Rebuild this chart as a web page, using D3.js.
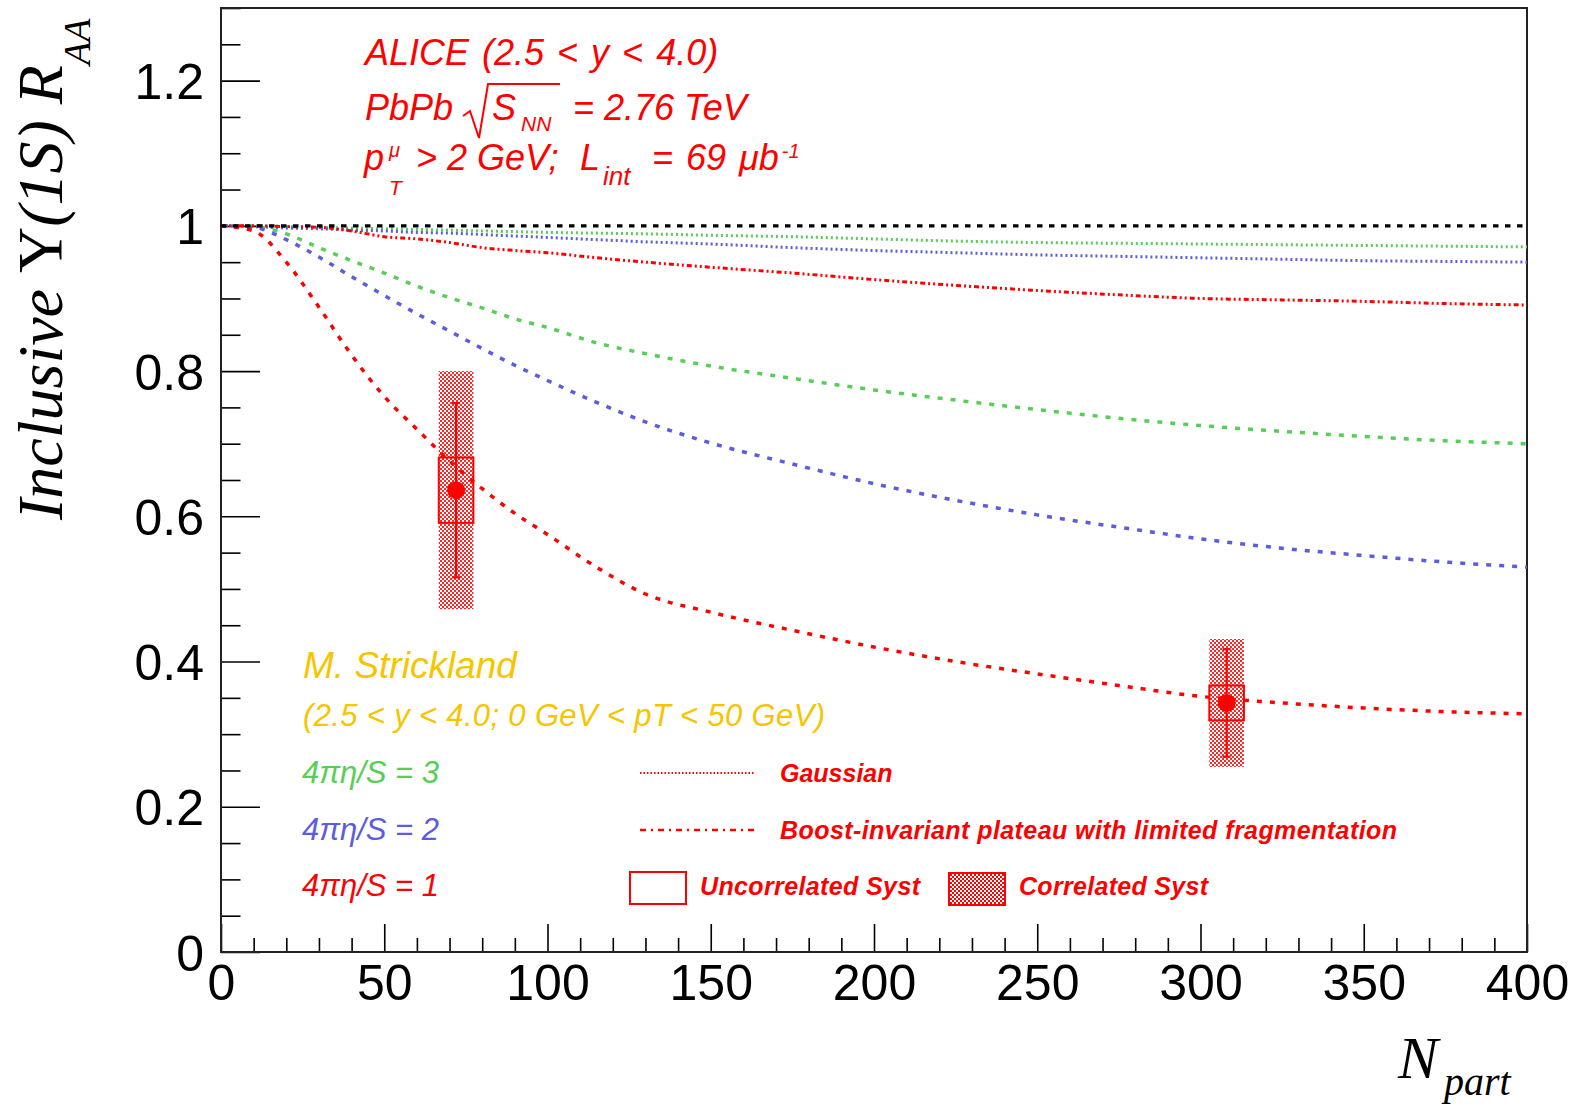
<!DOCTYPE html>
<html>
<head>
<meta charset="utf-8">
<script src="https://cdn.jsdelivr.net/npm/d3@7/dist/d3.min.js"></script>
<style>
  body { margin: 0; background: #fff; }
  svg { display: block; }
  .sans { font-family: "Liberation Sans", Arial, Helvetica, sans-serif; }
  .serif { font-family: "Liberation Serif", "Times New Roman", serif; }
</style>
</head>
<body>
<svg id="chart" width="1571" height="1104"></svg>
<script>
// ---- data ------------------------------------------------------------
// N_part grid on which the hydro model curves are tabulated
const nGrid = [0, 10, 20, 30, 40, 50, 60, 70, 80, 90, 100, 115, 130, 150, 175, 200, 225, 250, 275, 300, 325, 350, 375, 400];

// Strickland model, Gaussian rapidity profile
const gaussEta3 = [1.000, 0.999, 0.989, 0.970, 0.952, 0.935, 0.917, 0.901, 0.887, 0.872, 0.860, 0.839, 0.824, 0.807, 0.790, 0.774, 0.760, 0.747, 0.735, 0.725, 0.717, 0.710, 0.704, 0.700];
const gaussEta2 = [1.000, 0.998, 0.981, 0.957, 0.930, 0.904, 0.879, 0.855, 0.831, 0.808, 0.787, 0.757, 0.730, 0.701, 0.672, 0.645, 0.622, 0.602, 0.585, 0.569, 0.556, 0.546, 0.537, 0.530];
const gaussEta1 = [1.000, 0.993, 0.950, 0.888, 0.822, 0.765, 0.720, 0.676, 0.638, 0.604, 0.575, 0.530, 0.493, 0.468, 0.443, 0.420, 0.400, 0.383, 0.367, 0.352, 0.343, 0.336, 0.331, 0.328];

// Strickland model, boost-invariant plateau with limited fragmentation
const boostEta3 = [1.000, 1.000, 0.999, 0.998, 0.997, 0.996, 0.995, 0.994, 0.993, 0.992, 0.991, 0.990, 0.989, 0.987, 0.985, 0.982, 0.979, 0.977, 0.976, 0.975, 0.974, 0.973, 0.972, 0.971];
const boostEta2 = [1.000, 0.999, 0.997, 0.996, 0.994, 0.993, 0.991, 0.990, 0.988, 0.986, 0.984, 0.981, 0.978, 0.975, 0.970, 0.966, 0.963, 0.960, 0.958, 0.956, 0.954, 0.952, 0.951, 0.950];
const boostEta1 = [1.000, 1.000, 0.999, 0.998, 0.993, 0.985, 0.982, 0.977, 0.970, 0.966, 0.963, 0.956, 0.950, 0.943, 0.935, 0.926, 0.918, 0.911, 0.905, 0.900, 0.898, 0.896, 0.893, 0.891];

// ALICE measurement
const dataNpart   = [72, 308];
const dataRaa     = [0.636, 0.343];
const dataStat    = [0.120, 0.074];
const dataUncSyst = [0.045, 0.024];
const dataCorSyst = [0.164, 0.088];

// axis ticks
const xMajorTicks = [0, 50, 100, 150, 200, 250, 300, 350, 400];
const yMajorTicks = [0, 0.2, 0.4, 0.6, 0.8, 1.0, 1.2];
const yTickLabels = ["0", "0.2", "0.4", "0.6", "0.8", "1", "1.2"];

// ---- layout ----------------------------------------------------------
const frame = { left: 221, right: 1527, top: 8, bottom: 952 };
const RED = "#ff0000", GREEN = "#55cf55", BLUE = "#5c5ce0", BLACK = "#000", GOLD = "#f7c500";

const svg = d3.select("#chart");
const x = d3.scaleLinear().domain([0, 400]).range([frame.left, frame.right]);
const y = d3.scaleLinear().domain([0, 1.3]).range([frame.bottom, frame.top]);

// dotted fill used for the correlated systematic boxes
const defs = svg.append("defs");
const pat = defs.append("pattern").attr("id", "dots")
  .attr("patternUnits", "userSpaceOnUse").attr("width", 4).attr("height", 4);
pat.append("rect").attr("x", 0).attr("y", 0).attr("width", 2).attr("height", 2).attr("fill", RED);
pat.append("rect").attr("x", 2).attr("y", 2).attr("width", 2).attr("height", 2).attr("fill", RED);

// ---- axes ------------------------------------------------------------
const xMinor = d3.range(0, 401, 10).filter(v => v % 50 !== 0);
const yMinor = d3.range(0, 27).map(i => +(i * 0.05).toFixed(2)).filter(v => Math.round(v * 100) % 20 !== 0);

const gx = svg.append("g").attr("transform", `translate(0,${frame.bottom})`)
  .call(d3.axisBottom(x).tickValues(xMajorTicks).tickSize(-28).tickPadding(12).tickFormat(d3.format("d")));
svg.append("g").attr("transform", `translate(0,${frame.bottom})`)
  .call(d3.axisBottom(x).tickValues(xMinor).tickSize(-14).tickFormat(""));

const gy = svg.append("g").attr("transform", `translate(${frame.left},0)`)
  .call(d3.axisLeft(y).tickValues(yMajorTicks).tickSize(-39).tickPadding(17)
    .tickFormat((d, i) => yTickLabels[i]));
svg.append("g").attr("transform", `translate(${frame.left},0)`)
  .call(d3.axisLeft(y).tickValues(yMinor).tickSize(-19.5).tickFormat(""));

svg.selectAll(".domain").remove();
svg.selectAll(".tick line").attr("stroke", BLACK).attr("stroke-width", 1.6);
gx.selectAll("text").attr("class", "sans").attr("font-size", 50).attr("fill", BLACK);
gy.selectAll("text").attr("class", "sans").attr("font-size", 50).attr("fill", BLACK).attr("dy", "0.36em");

// frame
svg.append("rect")
  .attr("x", frame.left).attr("y", frame.top)
  .attr("width", frame.right - frame.left).attr("height", frame.bottom - frame.top)
  .attr("fill", "none").attr("stroke", "#222").attr("stroke-width", 2);

// ---- systematic boxes ------------------------------------------------
const boxHalfN = 5.3;
const pts = dataNpart.map((n, i) => ({ n, r: dataRaa[i], stat: dataStat[i], unc: dataUncSyst[i], cor: dataCorSyst[i] }));

svg.append("g").selectAll("rect").data(pts).join("rect")
  .attr("x", d => x(d.n - boxHalfN)).attr("width", d => x(d.n + boxHalfN) - x(d.n - boxHalfN))
  .attr("y", d => y(d.r + d.cor)).attr("height", d => y(d.r - d.cor) - y(d.r + d.cor))
  .attr("fill", "url(#dots)").attr("opacity", 0.85);

// ---- model curves ----------------------------------------------------
const line = d3.line().x(d => x(d[0])).y(d => y(d[1])).curve(d3.curveMonotoneX);
const toPts = arr => nGrid.map((n, i) => [n, arr[i]]);

const curves = [
  { v: boostEta3, c: GREEN, dash: "2,3", w: 3 },
  { v: boostEta2, c: BLUE,  dash: "2,3", w: 3 },
  { v: boostEta1, c: RED,   dash: "5,3,2,3,2,3", w: 3 },
  { v: gaussEta3, c: GREEN, dash: "5,8", w: 3.5 },
  { v: gaussEta2, c: BLUE,  dash: "5,8", w: 3.5 },
  { v: gaussEta1, c: RED,   dash: "5,8", w: 3.5 }
];
svg.append("g").selectAll("path").data(curves).join("path")
  .attr("d", d => line(toPts(d.v)))
  .attr("fill", "none").attr("stroke", d => d.c)
  .attr("stroke-width", d => d.w).attr("stroke-dasharray", d => d.dash);

// R_AA = 1 reference
svg.append("path")
  .attr("d", line([[0, 1], [400, 1]]))
  .attr("stroke", BLACK).attr("stroke-width", 3.2).attr("stroke-dasharray", "5.5,6.5").attr("fill", "none");

// ---- data points -----------------------------------------------------
const gp = svg.append("g").selectAll("g").data(pts).join("g");
gp.append("rect")
  .attr("x", d => x(d.n - boxHalfN)).attr("width", d => x(d.n + boxHalfN) - x(d.n - boxHalfN))
  .attr("y", d => y(d.r + d.unc)).attr("height", d => y(d.r - d.unc) - y(d.r + d.unc))
  .attr("fill", "none").attr("stroke", RED).attr("stroke-width", 2);
gp.append("line")
  .attr("x1", d => x(d.n)).attr("x2", d => x(d.n))
  .attr("y1", d => y(d.r + d.stat)).attr("y2", d => y(d.r - d.stat))
  .attr("stroke", RED).attr("stroke-width", 2.2);
[1, -1].forEach(s => {
  gp.append("line")
    .attr("x1", d => x(d.n) - 4).attr("x2", d => x(d.n) + 4)
    .attr("y1", d => y(d.r + s * d.stat)).attr("y2", d => y(d.r + s * d.stat))
    .attr("stroke", RED).attr("stroke-width", 2.2);
});
gp.append("circle")
  .attr("cx", d => x(d.n)).attr("cy", d => y(d.r)).attr("r", 9)
  .attr("fill", RED);

// ---- axis titles -----------------------------------------------------
const yt = svg.append("text").attr("class", "serif")
  .attr("transform", "translate(62,520) rotate(-90)")
  .attr("font-size", 64).attr("font-style", "italic").attr("fill", BLACK);
yt.append("tspan").text("Inclusive ");
yt.append("tspan").attr("font-style", "normal").text("\u03A5");
yt.append("tspan").text("(1S) R");
yt.append("tspan").attr("font-size", 38).attr("dy", 28).text("AA");

const xt = svg.append("text").attr("class", "serif").attr("x", 1398).attr("y", 1078)
  .attr("font-style", "italic").attr("fill", BLACK);
xt.append("tspan").attr("font-size", 60).text("N");
xt.append("tspan").attr("font-size", 40).attr("dx", 6).attr("dy", 17).text("part");

// ---- experiment labels -----------------------------------------------
function label(txt, px, py, size, color, opts = {}) {
  const t = svg.append("text").attr("class", "sans")
    .attr("x", px).attr("y", py).attr("font-size", size)
    .attr("font-style", "italic").attr("fill", color)
    .attr("font-weight", opts.bold ? "bold" : "normal")
    .text(txt);
  if (opts.len) t.attr("textLength", opts.len).attr("lengthAdjust", "spacing");
  if (opts.ws) t.attr("word-spacing", opts.ws);
  return t;
}
// main text followed by a lowered (dy > 0) or raised (dy < 0) index
function indexed(main, idx, px, py, size, idxSize, dx, dy, color, ws) {
  const t = label(main, px, py, size, color, { ws });
  t.append("tspan").attr("font-size", idxSize).attr("dx", dx).attr("dy", dy).text(idx);
  return t;
}

label("ALICE (2.5 < y < 4.0)", 365, 65, 36, RED, { ws: 3 });
label("PbPb", 365, 120, 36, RED);
svg.append("path")
  .attr("d", "M463,116 L470,111 L479,138 L488,84 L560,84")
  .attr("fill", "none").attr("stroke", RED).attr("stroke-width", 2);
indexed("S", "NN", 492, 120, 36, 21, 5, 11, RED);
label("= 2.76 TeV", 573, 120, 36, RED);
label("p", 364, 170, 36, RED);
label("\u03BC", 389, 157, 20, RED);
label("T", 389, 195, 21, RED);
label("> 2 GeV;", 416, 170, 36, RED);
indexed("L", "int", 580, 170, 36, 26, 3, 15, RED);
indexed("= 69 \u03BCb", "-1", 652, 170, 36, 20, 3, -12, RED, 3);

label("M. Strickland", 303, 678, 37, GOLD);
label("(2.5 < y < 4.0; 0 GeV < pT < 50 GeV)", 303, 726, 31, GOLD, { len: 522 });

// ---- legend ----------------------------------------------------------
label("4\u03C0\u03B7/S = 3", 302, 783, 31, GREEN);
label("4\u03C0\u03B7/S = 2", 302, 840, 31, BLUE);
label("4\u03C0\u03B7/S = 1", 302, 896, 31, RED);

svg.append("line").attr("x1", 640).attr("x2", 755).attr("y1", 773).attr("y2", 773)
  .attr("stroke", RED).attr("stroke-width", 2).attr("stroke-dasharray", "1.5,2");
label("Gaussian", 780, 782, 25, RED, { bold: true });

svg.append("line").attr("x1", 640).attr("x2", 755).attr("y1", 830).attr("y2", 830)
  .attr("stroke", RED).attr("stroke-width", 2.5).attr("stroke-dasharray", "6,5,2,5");
label("Boost-invariant plateau with limited fragmentation", 780, 839, 25, RED, { bold: true, len: 617 });

svg.append("rect").attr("x", 630).attr("y", 872).attr("width", 56).attr("height", 32)
  .attr("fill", "none").attr("stroke", RED).attr("stroke-width", 2);
label("Uncorrelated Syst", 700, 895, 25, RED, { bold: true, len: 220 });

svg.append("rect").attr("x", 949).attr("y", 873).attr("width", 56).attr("height", 32)
  .attr("fill", "url(#dots)").attr("stroke", RED).attr("stroke-width", 2);
label("Correlated Syst", 1019, 895, 25, RED, { bold: true, len: 189 });
</script>
</body>
</html>
